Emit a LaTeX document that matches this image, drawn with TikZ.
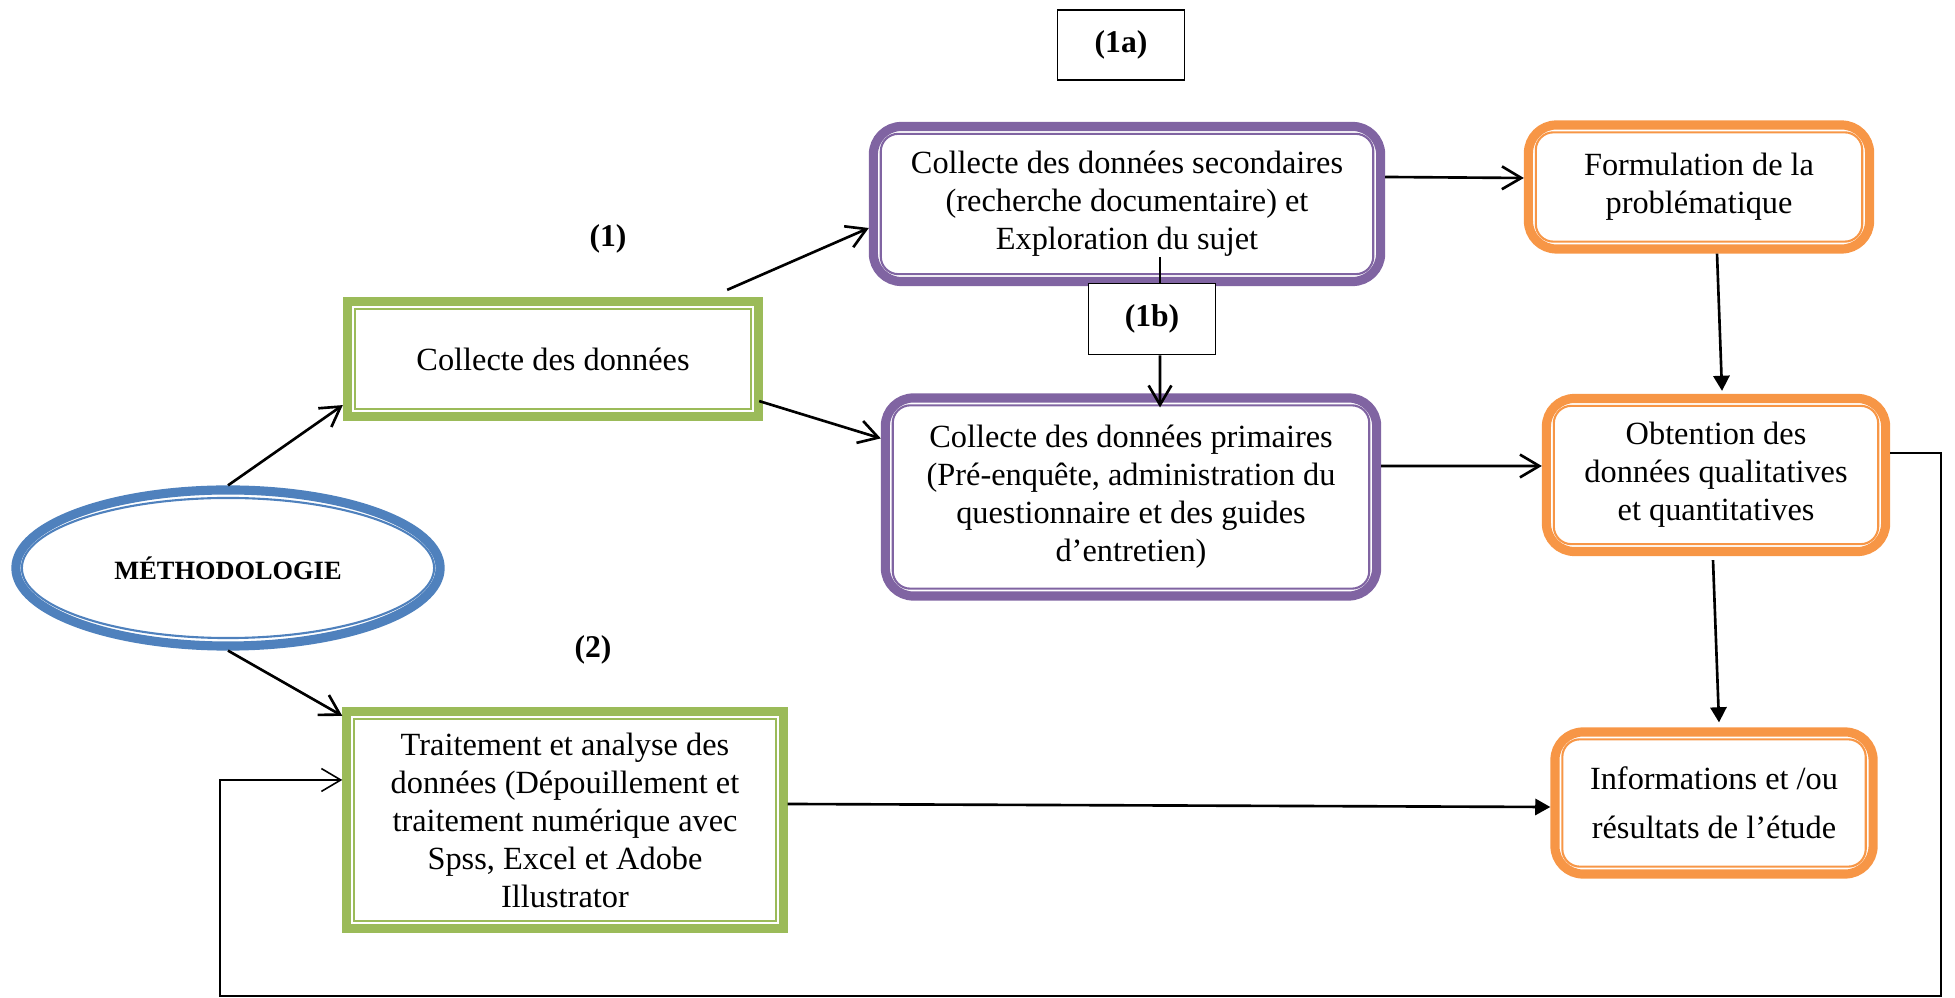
\documentclass[tikz,border=0pt]{standalone}
\usepackage{fontspec}
\setmainfont{Liberation Serif}
\usepackage{tikz}
\usetikzlibrary{arrows.meta,shapes.geometric}

\definecolor{vertB}{RGB}{155,187,89}
\definecolor{violetB}{RGB}{128,100,162}
\definecolor{orangeB}{RGB}{247,150,70}
\definecolor{bleuB}{RGB}{79,129,189}

\tikzset{
  boite/.style={draw=#1,line width=2.6pt,align=center,inner sep=0pt,
    font=\fontsize{9.2}{10.8}\selectfont},
  boiteR/.style={boite=#1,rounded corners=8pt},
  etiq/.style={font=\bfseries\fontsize{9}{10.8}\selectfont},
  lien/.style={line width=0.75pt},
}

\begin{document}
\begin{tikzpicture}[x=0.01cm,y=-0.01cm]
\useasboundingbox (0,0) rectangle (1955,998);

% ellipse de depart
\node[boite=bleuB,ellipse,minimum width=4.24cm,minimum height=1.56cm,
      font=\bfseries\fontsize{7.5}{9}\selectfont] (methodo) at (228,568) {\raisebox{-0.1cm}{MÉTHODOLOGIE}};
\draw[bleuB,line width=0.6pt] (methodo.center) ellipse [x radius=2.06cm,y radius=0.70cm];

% boites vertes
\node[boite=vertB,minimum width=4.11cm,minimum height=1.15cm] (collecte) at (553,359)
  {Collecte des données};
\node[boite=vertB,minimum width=4.36cm,minimum height=2.17cm] (traitement) at (565,820)
  {Traitement et analyse des\\données (Dépouillement et\\traitement numérique avec\\Spss, Excel et Adobe\\Illustrator};

% boites violettes
\node[boiteR=violetB,minimum width=5.07cm,minimum height=1.55cm] (secondaire) at (1127,204)
  {\rule{0pt}{0.1cm}Collecte des données secondaires\\(recherche documentaire) et\\Exploration du sujet};
\node[boiteR=violetB,minimum width=4.91cm,minimum height=1.98cm] (primaire) at (1131,497)
  {Collecte des données primaires\\(Pré-enquête, administration du\\questionnaire et des guides\\d’entretien)};

% boites orange
\node[boiteR=orangeB,minimum width=3.41cm,minimum height=1.24cm] (formulation) at (1699,187)
  {Formulation de la\\problématique};
\node[boiteR=orangeB,minimum width=3.39cm,minimum height=1.53cm] (obtention) at (1716,475)
  {Obtention des\\données qualitatives\\et quantitatives};
\node[boiteR=orangeB,minimum width=3.18cm,minimum height=1.42cm,
      font=\fontsize{9.2}{14}\selectfont] (informations) at (1714,803)
  {Informations et /ou\\résultats de l’étude};

% filets interieurs
\foreach \n/\c in {collecte/vertB,traitement/vertB}
  \draw[\c,line width=0.6pt] ([shift={(3.4pt,-3.4pt)}]\n.north west) rectangle ([shift={(-3.4pt,3.4pt)}]\n.south east);
\foreach \n/\c in {secondaire/violetB,primaire/violetB,formulation/orangeB,obtention/orangeB,informations/orangeB}
  \draw[\c,line width=0.6pt,rounded corners=5pt] ([shift={(3.4pt,-3.4pt)}]\n.north west) rectangle ([shift={(-3.4pt,3.4pt)}]\n.south east);

% reperes
\draw[lien] ([xshift=0.33cm,yshift=0.29cm]secondaire.south) -- ++(0,30);
\node[etiq,draw,line width=0.5pt,minimum width=1.27cm,minimum height=0.70cm] (lab1a) at (1121,45) {(1a)};
\node[etiq,draw,fill=white,line width=0.5pt,minimum width=1.27cm,minimum height=0.71cm] (lab1b) at (1152,319) {(1b)};
\node[etiq] (lab1) at (608,239) {(1)};
\node[etiq] (lab2) at (593,650) {(2)};

\begin{scope}[>={Straight Barb[length=5.5pt,width=6.5pt]}]
    \draw[lien,->] (methodo.north) -- ([yshift=0.16cm]collecte.south west);
    \draw[lien,->] (methodo.south) -- ([yshift=-0.09cm]traitement.north west);
    \draw[lien,->] ([xshift=-0.36cm,yshift=0.07cm]collecte.north east) -- ([yshift=-0.24cm]secondaire.west);
    \draw[lien,->] ([xshift=-0.04cm,yshift=0.2cm]collecte.south east) -- ([yshift=-0.45cm]primaire.north west);
    \draw[lien,->] ([yshift=0.27cm]secondaire.east) -- ([yshift=0.09cm]formulation.west);
    \draw[lien,->] ([yshift=0.31cm]primaire.east) -- ([yshift=0.09cm]obtention.west);
    \draw[lien,->] ([xshift=0.08cm]lab1b.south) -- ([xshift=0.29cm,yshift=-0.14cm]primaire.north);

    \coordinate (retourD) at (1941,996);
    \coordinate (retourG) at (220,996);
    \draw[line width=0.45pt,->] ([yshift=0.22cm]obtention.east) -| (retourD) -- (retourG) |- ([yshift=0.4cm]traitement.west);
\end{scope}

\begin{scope}[>={Triangle[length=4.3pt,width=4.6pt]}]
    \draw[lien,->] ([xshift=0.18cm]formulation.south) -- ([xshift=0.06cm,yshift=0.03cm]obtention.north);
    \draw[lien,->] ([xshift=-0.03cm,yshift=-0.04cm]obtention.south) -- ([xshift=0.05cm,yshift=0.05cm]informations.north);
    \draw[lien,->] ([yshift=0.16cm]traitement.east) -- ([yshift=-0.04cm]informations.west);
\end{scope}
\end{tikzpicture}
\end{document}
